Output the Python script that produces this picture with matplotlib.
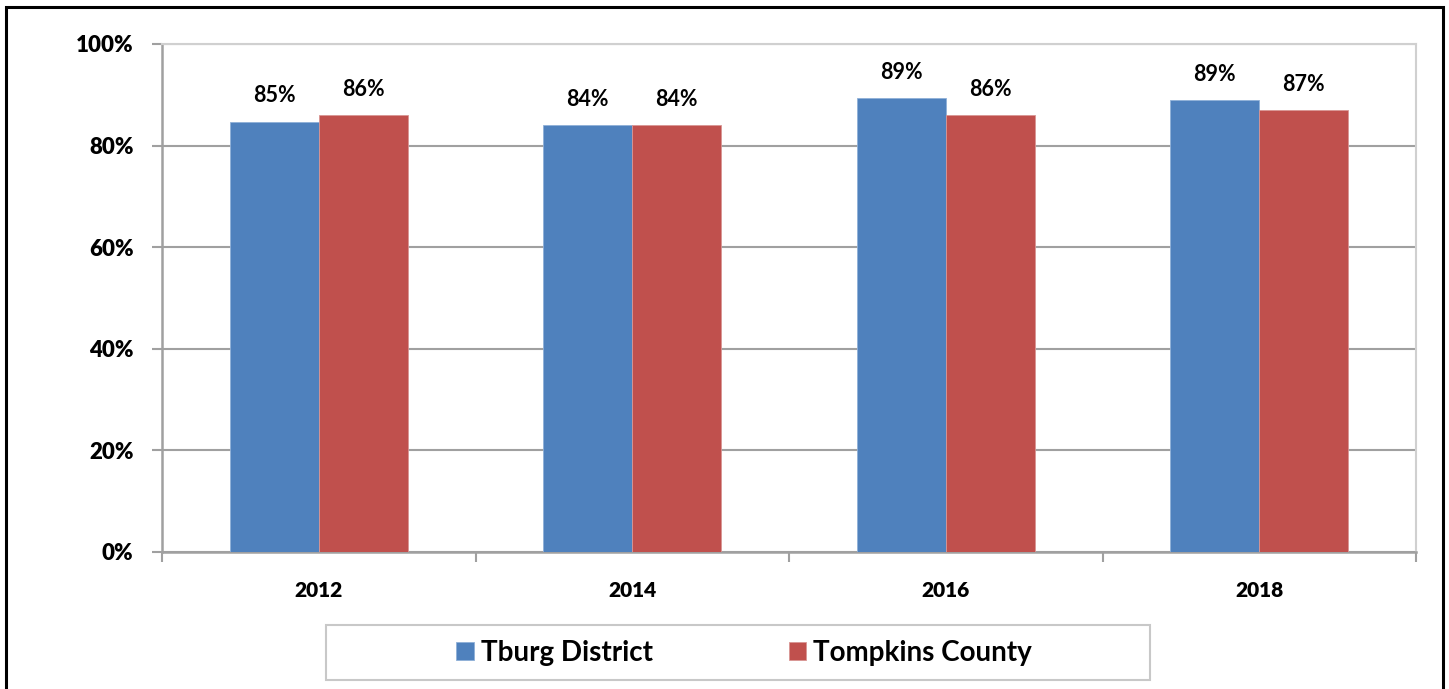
import matplotlib.pyplot as plt
import numpy as np
from matplotlib.patches import Rectangle

plt.rcParams['font.family'] = ['Lato', 'DejaVu Sans']

############################
# data
############################
years = ['2012', '2014', '2016', '2018']
tburg = [84.7, 84.0, 89.4, 89.0]
tompkins = [86.0, 84.0, 86.0, 87.0]
tburg_labels = ['85%', '84%', '89%', '89%']
tompkins_labels = ['86%', '84%', '86%', '87%']
yticks = [0, 20, 40, 60, 80, 100]

blue = '#4F81BD'
red = '#C0504D'
grid_c = '#a0a0a0'

fig = plt.figure(figsize=(14.49, 6.89), dpi=100)
ax = fig.add_axes([162/1449, 1-552/689, (1416-162)/1449, (552-44)/689])

x = np.arange(len(years))
w = 0.284
b1 = ax.bar(x - w/2, tburg, w, color=blue, edgecolor='#8fb0d8', linewidth=0.6,
            label='Tburg District', zorder=3)
b2 = ax.bar(x + w/2, tompkins, w, color=red, edgecolor='#d99694', linewidth=0.6,
            label='Tompkins County', zorder=3)

for bars, labs in ((b1, tburg_labels), (b2, tompkins_labels)):
    for r, lab in zip(bars, labs):
        ax.annotate(lab, (r.get_x() + r.get_width()/2, r.get_height()),
                    xytext=(0, 11), textcoords='offset points',
                    ha='center', va='bottom', fontsize=15.5, fontweight='bold')

ax.set_xlim(-0.5, len(years) - 0.5)
ax.set_ylim(0, 100)
ax.set_yticks(yticks)
ax.set_yticklabels([f'{v}%' for v in yticks])
ax.set_xticks(x)
ax.set_xticklabels(years)
for t in ax.get_yticklabels():
    t.set_fontsize(16)
    t.set_fontweight('heavy')
for t in ax.get_xticklabels():
    t.set_fontsize(15)
    t.set_fontweight('heavy')
ax.set_xticks(np.arange(-0.5, len(years)), minor=True)
ax.tick_params(axis='x', which='major', length=0, pad=21)
ax.tick_params(axis='x', which='minor', length=7.5, width=1.5, color=grid_c)
ax.tick_params(axis='y', length=7.5, width=1.5, color=grid_c, pad=13)

ax.grid(axis='y', color=grid_c, linewidth=1.5, zorder=0)
for s in ('left', 'bottom'):
    ax.spines[s].set_color(grid_c)
    ax.spines[s].set_linewidth(1.8)
for s in ('top', 'right'):
    ax.spines[s].set_color('#d0d0d0')
    ax.spines[s].set_linewidth(1.5)

# legend box
fig.patches.append(Rectangle((326/1449, 1-680/689), 824/1449, 55/689,
                             transform=fig.transFigure, fill=False,
                             edgecolor='#c8c8c8', linewidth=1.5))
fig.legend(handles=[b1, b2], loc='center', bbox_to_anchor=(744/1449, 1-653/689),
           ncol=2, frameon=False, prop={'size': 20, 'weight': 'bold'},
           handlelength=0.62, handleheight=0.62, handletextpad=0.25,
           columnspacing=4.9)

# outer border (open at the bottom)
fig.patches.append(Rectangle((6/1449, -0.2), 1437/1449, 1.2 - 6.5/689,
                             transform=fig.transFigure, fill=False,
                             edgecolor='black', linewidth=2.2))

fig.savefig('out.png', dpi=100)
